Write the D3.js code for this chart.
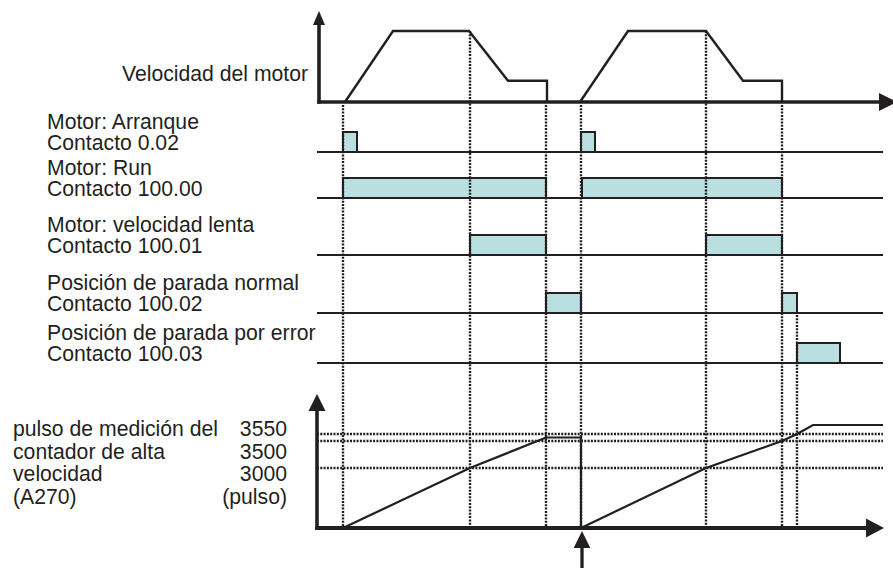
<!DOCTYPE html>
<html><head><meta charset="utf-8">
<script src="https://cdn.jsdelivr.net/npm/d3@7"></script>
<style>body{margin:0;background:#fff}svg{display:block}</style>
</head><body><svg id="c" width="893" height="568"></svg>
<script>
// ---------- data ----------
const velocityTitle = "Velocidad del motor";
const vel1Times = [2, 50, 126, 165, 204, 204];
const vel1Values = [0, 100, 100, 30, 30, 0];
const vel2Times = [237, 285, 363, 400, 439, 439];
const vel2Values = [0, 100, 100, 30, 30, 0];

const signalNames = ["Motor: Arranque", "Motor: Run", "Motor: velocidad lenta", "Posición de parada normal", "Posición de parada por error"];
const signalContacts = ["Contacto 0.02", "Contacto 100.00", "Contacto 100.01", "Contacto 100.02", "Contacto 100.03"];
const signalOnTimes = [[0, 238], [0, 239], [127, 363], [203, 439], [454]];
const signalOffTimes = [[14, 252], [203, 439], [203, 439], [238, 454], [497]];

const counter1Times = [0, 127, 203, 238, 238];
const counter1Values = [0, 3000, 3525, 3525, 0];
const counter2Times = [238, 363, 439, 454, 470, 540];
const counter2Values = [0, 3000, 3500, 3550, 3600, 3600];
const counterTicks = [3550, 3500, 3000];
const counterUnit = "(pulso)";
const counterLabel = ["pulso de medición del", "contador de alta", "velocidad", "(A270)"];
const eventTimes = [0, 127, 203, 238, 363, 439, 454];
const markerTime = 238;

// ---------- layout ----------
const INK = "#231f20", FILL = "#badfe0";
const FONT = "'Liberation Sans', Arial, Helvetica, sans-serif";
const svg = d3.select("#c");
const x = d3.scaleLinear().domain([-26, 550]).range([317, 893]);
const vy = d3.scaleLinear().domain([0, 100]).range([102, 31]);
const rowBase = [152, 198, 255, 313, 363];
const cy = d3.scaleLinear().domain([0, 3000, 3500, 3550, 3600]).range([528, 468, 441, 434, 425]);
const guideFrom = ["base", "peak", "base", "base", "peak", "base", "row"];
const DOT = "2,1.3";

function txt(s, px, py, anchor) {
  svg.append("text")
    .attr("x", px).attr("y", py)
    .attr("text-anchor", anchor || "start")
    .attr("font-family", FONT).attr("font-size", 21.2).attr("fill", INK)
    .text(s);
}
function tri(points) {
  svg.append("path").attr("d", "M" + points.map(p => p.join(",")).join("L") + "Z").attr("fill", INK);
}

// ---------- velocity section ----------
txt(velocityTitle, 122, 81);
const vline = d3.line().x(d => x(d[0])).y(d => vy(d[1]));
[[vel1Times, vel1Values], [vel2Times, vel2Values]].forEach(([t, v]) => {
  svg.append("path").datum(t.map((tt, i) => [tt, v[i]]))
    .attr("d", vline).attr("fill", "none").attr("stroke", INK).attr("stroke-width", 2.4)
    .attr("stroke-linejoin", "miter");
});
// top axes
const topX0 = x(-24);
svg.append("line").attr("x1", topX0).attr("x2", topX0).attr("y1", vy(0) + 1.7).attr("y2", 24)
  .attr("stroke", INK).attr("stroke-width", 3.6);
tri([[topX0, 11], [topX0 - 6, 25], [topX0 + 6, 25]]);
svg.append("line").attr("x1", topX0 - 1.8).attr("x2", 880).attr("y1", vy(0)).attr("y2", vy(0))
  .attr("stroke", INK).attr("stroke-width", 3.4);
tri([[897, vy(0)], [879, vy(0) - 9], [879, vy(0) + 9]]);

// ---------- signal rows ----------
signalNames.forEach((name, i) => {
  txt(name, 47, rowBase[i] - 23);
  txt(signalContacts[i], 47, rowBase[i] - 2);
  signalOnTimes[i].forEach((t0, j) => {
    const t1 = signalOffTimes[i][j];
    svg.append("rect").attr("x", x(t0)).attr("y", rowBase[i] - 20)
      .attr("width", x(t1) - x(t0)).attr("height", 20)
      .attr("fill", FILL).attr("stroke", INK).attr("stroke-width", 2);
  });
});

// ---------- counter section ----------
counterLabel.forEach((s, i) => txt(s, 13, 436 + i * 22.6));
counterTicks.concat([counterUnit]).forEach((s, i) => txt(String(s), 287, 436 + i * 22.6, "end"));

const cline = d3.line().x(d => x(d[0])).y(d => cy(d[1]));
[[counter1Times, counter1Values], [counter2Times, counter2Values]].forEach(([t, v]) => {
  svg.append("path").datum(t.map((tt, i) => [tt, v[i]]))
    .attr("d", cline).attr("fill", "none").attr("stroke", INK).attr("stroke-width", 2.2);
});

// horizontal dotted references
svg.selectAll("line.href").data(counterTicks).join("line").attr("class", "href")
  .attr("x1", x(-26)).attr("x2", 883).attr("y1", d => cy(d)).attr("y2", d => cy(d))
  .attr("stroke", INK).attr("stroke-width", 2.4).attr("stroke-dasharray", DOT);

// vertical dotted guides
svg.selectAll("line.guide").data(eventTimes).join("line").attr("class", "guide")
  .attr("x1", d => x(d)).attr("x2", d => x(d))
  .attr("y1", (d, i) => guideFrom[i] === "peak" ? vy(100) : guideFrom[i] === "row" ? rowBase[3] + 2 : vy(0) + 3)
  .attr("y2", cy(0) - 2)
  .attr("stroke", INK).attr("stroke-width", 2.4).attr("stroke-dasharray", DOT);

// signal baselines (drawn over guides)
rowBase.forEach(y => {
  svg.append("line").attr("x1", x(-26)).attr("x2", 883).attr("y1", y).attr("y2", y)
    .attr("stroke", INK).attr("stroke-width", 2);
});

// bottom axes
const botX0 = x(-26);
svg.append("line").attr("x1", botX0).attr("x2", botX0).attr("y1", cy(0) + 2).attr("y2", 409)
  .attr("stroke", INK).attr("stroke-width", 3.6);
tri([[botX0, 394], [botX0 - 8.5, 411], [botX0 + 8.5, 411]]);
svg.append("line").attr("x1", botX0 - 1.8).attr("x2", 868).attr("y1", cy(0)).attr("y2", cy(0))
  .attr("stroke", INK).attr("stroke-width", 4);
tri([[884, cy(0)], [866, cy(0) - 9.5], [866, cy(0) + 9.5]]);

// marker arrow
const mx = x(markerTime) + 1;
tri([[mx, 531], [mx - 8.3, 548], [mx + 8.3, 548]]);
svg.append("line").attr("x1", mx).attr("x2", mx).attr("y1", 546).attr("y2", 568)
  .attr("stroke", INK).attr("stroke-width", 3.3);
</script>
</body></html>
